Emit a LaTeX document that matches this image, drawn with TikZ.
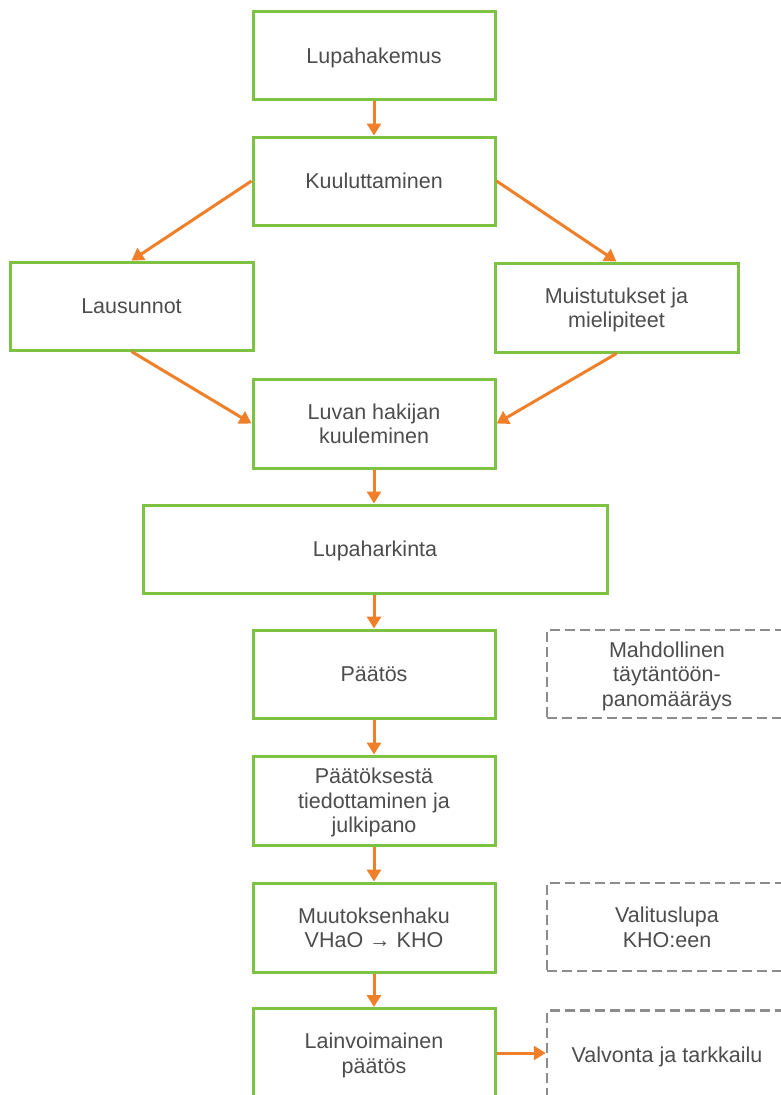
\documentclass[tikz,border=0pt]{standalone}
\usepackage{fontspec}
\setmainfont{Liberation Sans}
\usetikzlibrary{arrows.meta}
\definecolor{boxgreen}{HTML}{7DC242}
\definecolor{flow}{HTML}{F07F2A}
\definecolor{dashgray}{HTML}{8C8C8C}
\definecolor{txt}{HTML}{4D4D4D}
\tikzset{
  labeltext/.style={align=center, text=txt, font=\fontsize{21.5}{24.5}\selectfont,
    text depth=0pt, inner sep=2pt},
  stage/.style={labeltext, draw=boxgreen, line width=3pt, fill=white,
    minimum width=242pt, minimum height=88pt},
  optional/.style={labeltext, draw=dashgray, line width=2.5pt,
    dash pattern=on 10pt off 5pt, minimum width=240pt, minimum height=88pt},
  flowarrow/.style={draw=flow, line width=3pt, -{Triangle[length=12pt,width=14pt]}}
}
\begin{document}
\begin{tikzpicture}[x=1pt,y=-1pt]
  \clip (0,0) rectangle (781,1095);
  \fill[white] (0,0) rectangle (781,1095);

  \node[stage] (hakemus) at (374,55.5) {Lupahakemus};
  \node[stage] (kuulutus) at (374,181) {Kuuluttaminen};
  \node[stage, minimum width=243pt] (lausunnot) at (131.5,306) {Lausunnot};
  \node[stage, minimum width=243pt, minimum height=89pt] (muistutukset) at (616.5,307.5) {Muistutukset ja\\mielipiteet};
  \node[stage, minimum height=89pt] (kuuleminen) at (374,423.5) {Luvan hakijan\\kuuleminen};
  \node[stage, minimum width=464pt] (harkinta) at (375,549) {Lupaharkinta};
  \node[stage] (paatos) at (374,674) {Päätös};
  \node[optional] (taytanto) at (667,674) {Mahdollinen\\täytäntöön-\\panomääräys};
  \node[stage, minimum height=89pt] (tiedotus) at (374,800.5) {Päätöksestä\\tiedottaminen ja\\julkipano};
  \node[stage, minimum height=89pt] (muutos) at (374,927.5) {Muutoksenhaku\\VHaO → KHO};
  \node[optional] (valituslupa) at (667,927) {Valituslupa\\KHO:een};
  \node[stage, minimum height=89pt] (lainvoima) at (374,1053) {Lainvoimainen\\päätös};
  \node[optional] (valvonta) at (667,1054.5) {Valvonta ja tarkkailu};

  \draw[flowarrow] (hakemus.south) -- (kuulutus.north);
  \draw[flowarrow] (kuulutus.west) -- (lausunnot.north);
  \draw[flowarrow] (kuulutus.east) -- (muistutukset.north);
  \draw[flowarrow] (lausunnot.south) -- (kuuleminen.west);
  \draw[flowarrow] (muistutukset.south) -- (kuuleminen.east);
  \draw[flowarrow] (kuuleminen.south) -- (kuuleminen.south |- harkinta.north);
  \draw[flowarrow] (harkinta.south -| paatos.north) -- (paatos.north);
  \draw[flowarrow] (paatos.south) -- (tiedotus.north);
  \draw[flowarrow] (tiedotus.south) -- (muutos.north);
  \draw[flowarrow] (muutos.south) -- (lainvoima.north);
  \draw[flowarrow] (lainvoima.east) -- (lainvoima.east -| valvonta.west);
\end{tikzpicture}
\end{document}
